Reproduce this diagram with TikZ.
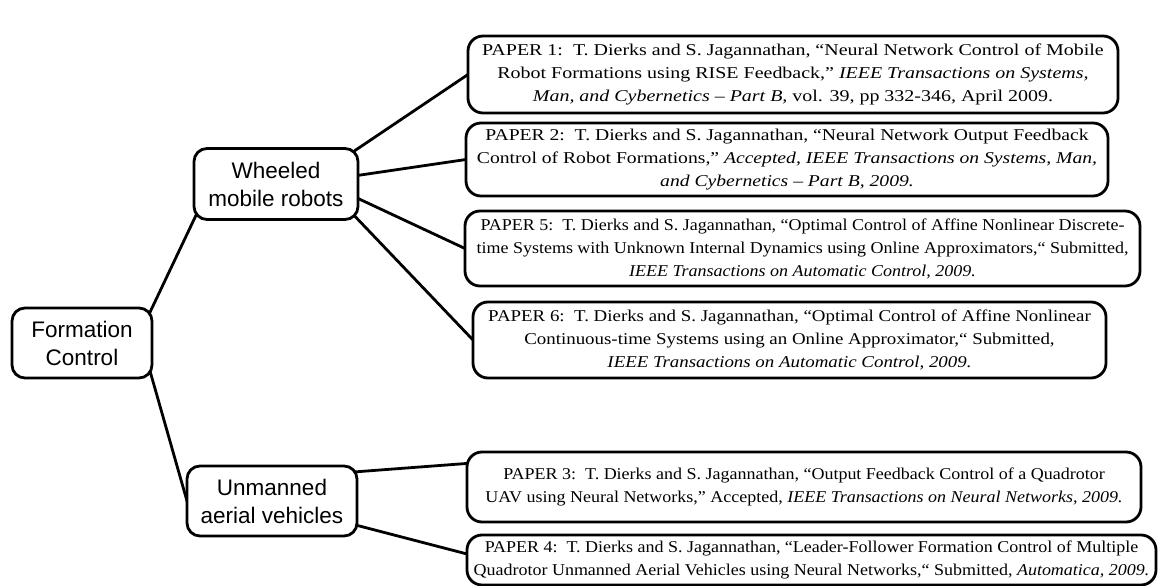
\documentclass[tikz,border=0pt]{standalone}
\usepackage{fontspec}
\setmainfont{Liberation Serif}[FakeStretch=1.09]
\newfontfamily\wideA{Liberation Serif}[FakeStretch=1.21]
\newfontfamily\wideB{Liberation Serif}[FakeStretch=1.19]
\newfontfamily\wideC{Liberation Serif}[FakeStretch=1.145]
\newfontfamily\labelfont{Liberation Sans}
\pgfdeclarelayer{bg}
\pgfsetlayers{bg,main}
\begin{document}
\begin{tikzpicture}[x=1pt,y=-1pt,
  topic/.style={draw, line width=2.8pt, rounded corners=13pt, fill=white, align=center,
    font=\labelfont\fontsize{22.5}{28}\selectfont, inner sep=0pt, outer sep=0pt},
  paper/.style={draw, line width=2.8pt, rounded corners=15pt, fill=white, align=center,
    font=\fontsize{16.5}{23}\selectfont, inner sep=0pt, outer sep=0pt},
  link/.style={line width=2.8pt, shorten <=-7pt, shorten >=-7pt}]
\useasboundingbox (0,0) rectangle (1160,586);
% left nodes
\node[topic, minimum width=140pt, minimum height=70pt] (fc) at (82,343) {Formation\\Control};
\node[topic, minimum width=164pt, minimum height=71pt] (wmr) at (276,184) {Wheeled\\mobile robots};
\node[topic, minimum width=170pt, minimum height=70pt] (uav) at (272,501) {Unmanned\\aerial vehicles};
% papers
\node[paper, font=\wideA\fontsize{16.5}{23}\selectfont, minimum width=650pt, minimum height=77pt] (p1) at (793,74.5)
 {PAPER 1:\ \ T. Dierks and S. Jagannathan, “Neural Network Control of Mobile\\
  Robot Formations using RISE Feedback,” \textit{IEEE Transactions on Systems,}\\
  \textit{Man, and Cybernetics – Part B,} vol. 39, pp 332-346, April 2009.};
\node[paper, font=\wideB\fontsize{16.5}{23}\selectfont, minimum width=642pt, minimum height=73pt] (p2) at (787,159.5)
 {PAPER 2:\ \ T. Dierks and S. Jagannathan, “Neural Network Output Feedback\\
  Control of Robot Formations,” \textit{Accepted, IEEE Transactions on Systems, Man,}\\
  \textit{and Cybernetics – Part B, 2009.}};
\node[paper, minimum width=675pt, minimum height=75pt] (p5) at (802.5,248.5)
 {PAPER 5:\ \ T. Dierks and S. Jagannathan, “Optimal Control of Affine Nonlinear Discrete-\\
  time Systems with Unknown Internal Dynamics using Online Approximators,“ Submitted,\\
  \textit{IEEE Transactions on Automatic Control, 2009.}};
\node[paper, font=\wideC\fontsize{16.5}{23}\selectfont, minimum width=633pt, minimum height=76pt] (p6) at (789.5,340)
 {PAPER 6:\ \ T. Dierks and S. Jagannathan, “Optimal Control of Affine Nonlinear\\
  Continuous-time Systems using an Online Approximator,“ Submitted,\\
  \textit{IEEE Transactions on Automatic Control, 2009.}};
\node[paper, minimum width=674pt, minimum height=70pt] (p3) at (804,487)
 {PAPER 3:\ \ T. Dierks and S. Jagannathan, “Output Feedback Control of a Quadrotor\\
  UAV using Neural Networks,” Accepted, \textit{IEEE Transactions on Neural Networks, 2009.}};
\node[paper, minimum width=689pt, minimum height=50pt] (p4) at (811.5,560)
 {PAPER 4:\ \ T. Dierks and S. Jagannathan, “Leader-Follower Formation Control of Multiple\\
  Quadrotor Unmanned Aerial Vehicles using Neural Networks,“ Submitted, \textit{Automatica, 2009.}};
% connectors
\begin{pgfonlayer}{bg}
\draw[link] (fc.north east) -- (wmr.south west);
\draw[link] (fc.south east) -- (uav.west);
\draw[link] (wmr.north east) -- (p1.west);
\draw[link] (wmr.6) -- (p2.west);
\draw[link] (wmr.-10) -- (p5.west);
\draw[link] (wmr.south east) -- (p6.west);
\draw[link] (uav.19) -- (p3.176);
\draw[link] (uav.-16) -- (p4.179);
\end{pgfonlayer}
\end{tikzpicture}
\end{document}
